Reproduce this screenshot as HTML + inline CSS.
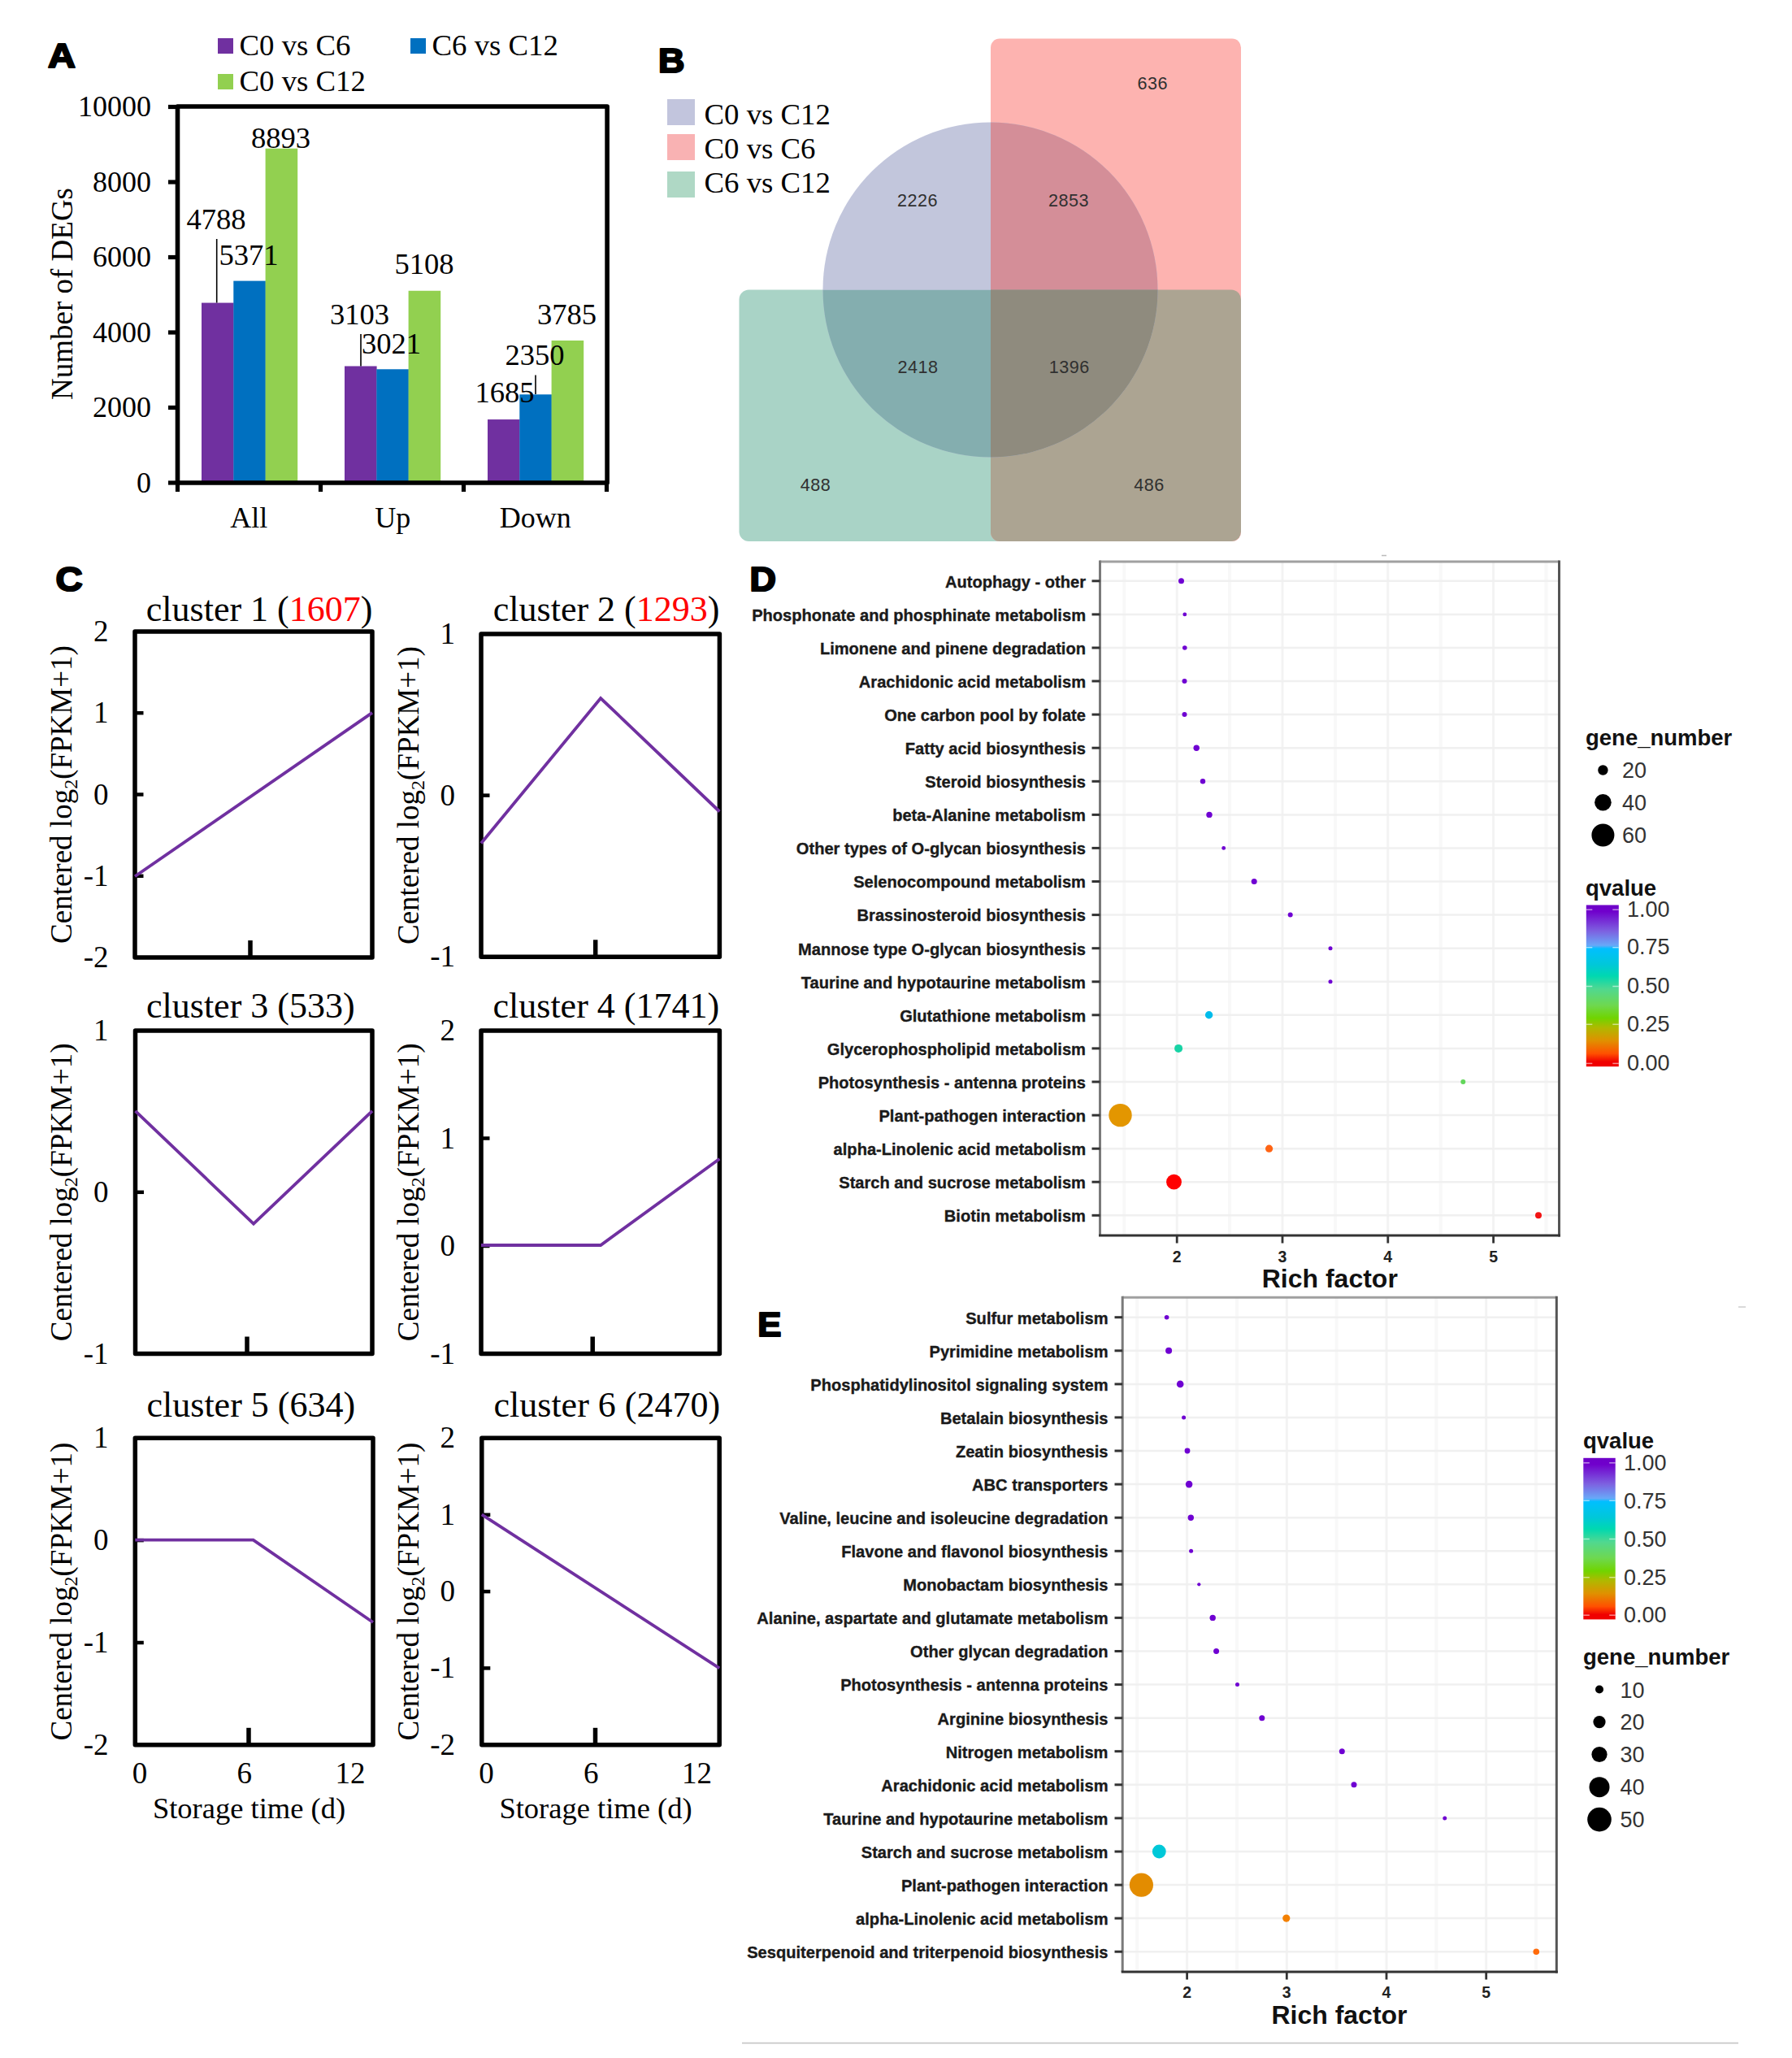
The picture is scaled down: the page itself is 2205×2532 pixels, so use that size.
<!DOCTYPE html><html><head><meta charset="utf-8"><style>html,body{margin:0;padding:0;background:#fff;width:2205px;height:2532px;overflow:hidden}svg{display:block}</style></head><body>
<svg width="2205" height="2532" viewBox="0 0 2205 2532">
<rect x="0" y="0" width="2205" height="2532" fill="#fff"/>
<text x="0" y="0" transform="translate(59,82.8) scale(1.12,1)" style="font-family:'Liberation Sans',sans-serif;font-size:42px;font-weight:bold" fill="#000" stroke="#000" stroke-width="2.2" stroke-linejoin="round">A</text>
<rect x="268" y="47" width="19" height="19" fill="#7030A0"/>
<rect x="505" y="47" width="19" height="19" fill="#0070C0"/>
<rect x="268" y="91" width="19" height="19" fill="#92D050"/>
<text x="294.5" y="67.8" style="font-family:'Liberation Serif',serif;font-size:36.8px;font-weight:normal" fill="#000" text-anchor="start" >C0 vs C6</text>
<text x="531.5" y="67.8" style="font-family:'Liberation Serif',serif;font-size:36.8px;font-weight:normal" fill="#000" text-anchor="start" >C6 vs C12</text>
<text x="294.5" y="111.8" style="font-family:'Liberation Serif',serif;font-size:36.8px;font-weight:normal" fill="#000" text-anchor="start" >C0 vs C12</text>
<rect x="248.00" y="372.56" width="39.60" height="221.44" fill="#7030A0"/>
<rect x="287.30" y="345.59" width="39.60" height="248.41" fill="#0070C0"/>
<rect x="326.60" y="182.70" width="39.60" height="411.30" fill="#92D050"/>
<rect x="424.00" y="450.49" width="39.60" height="143.51" fill="#7030A0"/>
<rect x="463.30" y="454.28" width="39.60" height="139.72" fill="#0070C0"/>
<rect x="502.60" y="357.75" width="39.60" height="236.25" fill="#92D050"/>
<rect x="600.00" y="516.07" width="39.60" height="77.93" fill="#7030A0"/>
<rect x="639.30" y="485.31" width="39.60" height="108.69" fill="#0070C0"/>
<rect x="678.60" y="418.94" width="39.60" height="175.06" fill="#92D050"/>
<rect x="218.5" y="131" width="528.6" height="463" fill="none" stroke="#000" stroke-width="5.6" stroke-linejoin="round"/>
<line x1="207" y1="594.0" x2="218.5" y2="594.0" stroke="#000" stroke-width="5.2"/>
<text x="186" y="605.7" style="font-family:'Liberation Serif',serif;font-size:36px;font-weight:normal" fill="#000" text-anchor="end" >0</text>
<line x1="207" y1="501.5" x2="218.5" y2="501.5" stroke="#000" stroke-width="5.2"/>
<text x="186" y="513.2" style="font-family:'Liberation Serif',serif;font-size:36px;font-weight:normal" fill="#000" text-anchor="end" >2000</text>
<line x1="207" y1="409.0" x2="218.5" y2="409.0" stroke="#000" stroke-width="5.2"/>
<text x="186" y="420.7" style="font-family:'Liberation Serif',serif;font-size:36px;font-weight:normal" fill="#000" text-anchor="end" >4000</text>
<line x1="207" y1="316.5" x2="218.5" y2="316.5" stroke="#000" stroke-width="5.2"/>
<text x="186" y="328.2" style="font-family:'Liberation Serif',serif;font-size:36px;font-weight:normal" fill="#000" text-anchor="end" >6000</text>
<line x1="207" y1="224.0" x2="218.5" y2="224.0" stroke="#000" stroke-width="5.2"/>
<text x="186" y="235.7" style="font-family:'Liberation Serif',serif;font-size:36px;font-weight:normal" fill="#000" text-anchor="end" >8000</text>
<line x1="207" y1="131.5" x2="218.5" y2="131.5" stroke="#000" stroke-width="5.2"/>
<text x="186" y="143.2" style="font-family:'Liberation Serif',serif;font-size:36px;font-weight:normal" fill="#000" text-anchor="end" >10000</text>
<line x1="218.5" y1="594" x2="218.5" y2="605" stroke="#000" stroke-width="5.2"/>
<line x1="394.5" y1="594" x2="394.5" y2="605" stroke="#000" stroke-width="5.2"/>
<line x1="570.5" y1="594" x2="570.5" y2="605" stroke="#000" stroke-width="5.2"/>
<line x1="746.5" y1="594" x2="746.5" y2="605" stroke="#000" stroke-width="5.2"/>
<text x="306.3" y="649" style="font-family:'Liberation Serif',serif;font-size:36px;font-weight:normal" fill="#000" text-anchor="middle" >All</text>
<text x="483.3" y="649" style="font-family:'Liberation Serif',serif;font-size:36px;font-weight:normal" fill="#000" text-anchor="middle" >Up</text>
<text x="658.8" y="649" style="font-family:'Liberation Serif',serif;font-size:36px;font-weight:normal" fill="#000" text-anchor="middle" >Down</text>
<text transform="translate(89.3,361.5) rotate(-90)" x="0" y="0" style="font-family:'Liberation Serif',serif;font-size:37px" text-anchor="middle" fill="#000">Number of DEGs</text>
<text x="309" y="181.5" style="font-family:'Liberation Serif',serif;font-size:36.6px;font-weight:normal" fill="#000" text-anchor="start" >8893</text>
<text x="229.5" y="282.4" style="font-family:'Liberation Serif',serif;font-size:36.6px;font-weight:normal" fill="#000" text-anchor="start" >4788</text>
<text x="269.5" y="326" style="font-family:'Liberation Serif',serif;font-size:36.6px;font-weight:normal" fill="#000" text-anchor="start" >5371</text>
<text x="406" y="399" style="font-family:'Liberation Serif',serif;font-size:36.6px;font-weight:normal" fill="#000" text-anchor="start" >3103</text>
<text x="445" y="435" style="font-family:'Liberation Serif',serif;font-size:36.6px;font-weight:normal" fill="#000" text-anchor="start" >3021</text>
<text x="485.5" y="337" style="font-family:'Liberation Serif',serif;font-size:36.6px;font-weight:normal" fill="#000" text-anchor="start" >5108</text>
<text x="584.5" y="495" style="font-family:'Liberation Serif',serif;font-size:36.6px;font-weight:normal" fill="#000" text-anchor="start" >1685</text>
<text x="621.5" y="449.4" style="font-family:'Liberation Serif',serif;font-size:36.6px;font-weight:normal" fill="#000" text-anchor="start" >2350</text>
<text x="661" y="399" style="font-family:'Liberation Serif',serif;font-size:36.6px;font-weight:normal" fill="#000" text-anchor="start" >3785</text>
<line x1="266.7" y1="294" x2="266.7" y2="372.5" stroke="#000" stroke-width="1.6"/>
<line x1="444" y1="411" x2="444" y2="450.5" stroke="#000" stroke-width="1.6"/>
<line x1="659" y1="461.5" x2="659" y2="485" stroke="#000" stroke-width="1.6"/>
<text x="0" y="0" transform="translate(810,88.5) scale(1.07,1)" style="font-family:'Liberation Sans',sans-serif;font-size:42px;font-weight:bold" fill="#000" stroke="#000" stroke-width="2.2" stroke-linejoin="round">B</text>
<rect x="821" y="122" width="34" height="32" fill="#C2C5DD"/>
<rect x="821" y="165" width="34" height="32" fill="#F9B2B3"/>
<rect x="821" y="211" width="34" height="32" fill="#AFD8C5"/>
<text x="866.5" y="152.5" style="font-family:'Liberation Serif',serif;font-size:36.8px;font-weight:normal" fill="#000" text-anchor="start" >C0 vs C12</text>
<text x="866.5" y="194.7" style="font-family:'Liberation Serif',serif;font-size:36.8px;font-weight:normal" fill="#000" text-anchor="start" >C0 vs C6</text>
<text x="866.5" y="236.9" style="font-family:'Liberation Serif',serif;font-size:36.8px;font-weight:normal" fill="#000" text-anchor="start" >C6 vs C12</text>
<defs>
<clipPath id="cRed"><rect x="1219" y="47.6" width="308" height="618.4" rx="11" fill="#000" /></clipPath>
<clipPath id="cGrn"><rect x="909.5" y="356.5" width="617.5" height="309.5" rx="12" fill="#000" /></clipPath>
<clipPath id="cCir"><circle cx="1218.5" cy="356.5" r="206"/></clipPath>
</defs>
<rect x="909.5" y="356.5" width="617.5" height="309.5" rx="12" fill="#A9D3C6" />
<rect x="1219" y="47.6" width="308" height="618.4" rx="11" fill="#FDB3B0" />
<g clip-path="url(#cGrn)"><rect x="1219" y="47.6" width="308" height="618.4" rx="11" fill="#ACA492" /></g>
<circle cx="1218.5" cy="356.5" r="206" fill="#C2C6DC"/>
<g clip-path="url(#cCir)"><g clip-path="url(#cRed)"><rect x="1219" y="47.6" width="308" height="618.4" rx="11" fill="#D48E98" /></g></g>
<g clip-path="url(#cCir)"><g clip-path="url(#cGrn)"><rect x="909.5" y="356.5" width="617.5" height="309.5" rx="12" fill="#84AEAF" /></g></g>
<g clip-path="url(#cCir)"><g clip-path="url(#cGrn)"><g clip-path="url(#cRed)"><rect x="1219" y="47.6" width="308" height="618.4" rx="11" fill="#8F8B7E" /></g></g></g>
<text x="1418.3" y="109.5" style="font-family:'Liberation Sans',sans-serif;font-size:21.6px;font-weight:normal" fill="#303030" text-anchor="middle" letter-spacing="0.5">636</text>
<text x="1129" y="253.6" style="font-family:'Liberation Sans',sans-serif;font-size:21.6px;font-weight:normal" fill="#303030" text-anchor="middle" letter-spacing="0.5">2226</text>
<text x="1315" y="253.6" style="font-family:'Liberation Sans',sans-serif;font-size:21.6px;font-weight:normal" fill="#303030" text-anchor="middle" letter-spacing="0.5">2853</text>
<text x="1129.5" y="459.3" style="font-family:'Liberation Sans',sans-serif;font-size:21.6px;font-weight:normal" fill="#303030" text-anchor="middle" letter-spacing="0.5">2418</text>
<text x="1315.7" y="459.3" style="font-family:'Liberation Sans',sans-serif;font-size:21.6px;font-weight:normal" fill="#303030" text-anchor="middle" letter-spacing="0.5">1396</text>
<text x="1003.4" y="604" style="font-family:'Liberation Sans',sans-serif;font-size:21.6px;font-weight:normal" fill="#303030" text-anchor="middle" letter-spacing="0.5">488</text>
<text x="1414" y="603.5" style="font-family:'Liberation Sans',sans-serif;font-size:21.6px;font-weight:normal" fill="#303030" text-anchor="middle" letter-spacing="0.5">486</text>
<text x="0" y="0" transform="translate(68.5,727) scale(1.07,1)" style="font-family:'Liberation Sans',sans-serif;font-size:43px;font-weight:bold" fill="#000" stroke="#000" stroke-width="2.2" stroke-linejoin="round">C</text>
<path d="M166 777 H458 V1178 H166 Z" fill="none" stroke="#000" stroke-width="5.5" stroke-linejoin="round"/>
<text x="133.5" y="789.0" style="font-family:'Liberation Serif',serif;font-size:37px;font-weight:normal" fill="#000" text-anchor="end" >2</text>
<line x1="166" y1="877.2" x2="176.5" y2="877.2" stroke="#000" stroke-width="4.5"/>
<text x="133.5" y="889.2" style="font-family:'Liberation Serif',serif;font-size:37px;font-weight:normal" fill="#000" text-anchor="end" >1</text>
<line x1="166" y1="977.5" x2="176.5" y2="977.5" stroke="#000" stroke-width="4.5"/>
<text x="133.5" y="989.5" style="font-family:'Liberation Serif',serif;font-size:37px;font-weight:normal" fill="#000" text-anchor="end" >0</text>
<line x1="166" y1="1077.8" x2="176.5" y2="1077.8" stroke="#000" stroke-width="4.5"/>
<text x="133.5" y="1089.8" style="font-family:'Liberation Serif',serif;font-size:37px;font-weight:normal" fill="#000" text-anchor="end" >-1</text>
<text x="133.5" y="1190.0" style="font-family:'Liberation Serif',serif;font-size:37px;font-weight:normal" fill="#000" text-anchor="end" >-2</text>
<line x1="308" y1="1157" x2="308" y2="1178" stroke="#000" stroke-width="5.5"/>
<polyline points="166,1078.2 458,876.9" fill="none" stroke="#7030A0" stroke-width="3.8" stroke-linejoin="miter"/>
<text x="179.8" y="764" style="font-family:'Liberation Serif',serif;font-size:44px" fill="#000">cluster 1 (<tspan fill="#FF0000">1607</tspan>)</text>
<text transform="translate(88,977.5) rotate(-90)" x="0" y="0" style="font-family:'Liberation Serif',serif;font-size:37px" text-anchor="middle" fill="#000">Centered log<tspan style="font-size:24px" dy="7">2</tspan><tspan dy="-7">(FPKM+1)</tspan></text>
<path d="M592 780 H885.4 V1177.3 H592 Z" fill="none" stroke="#000" stroke-width="5.5" stroke-linejoin="round"/>
<text x="560" y="792.0" style="font-family:'Liberation Serif',serif;font-size:37px;font-weight:normal" fill="#000" text-anchor="end" >1</text>
<line x1="592" y1="978.6" x2="602.5" y2="978.6" stroke="#000" stroke-width="4.5"/>
<text x="560" y="990.6" style="font-family:'Liberation Serif',serif;font-size:37px;font-weight:normal" fill="#000" text-anchor="end" >0</text>
<text x="560" y="1189.3" style="font-family:'Liberation Serif',serif;font-size:37px;font-weight:normal" fill="#000" text-anchor="end" >-1</text>
<line x1="732.7" y1="1156.3" x2="732.7" y2="1177.3" stroke="#000" stroke-width="5.5"/>
<polyline points="592,1037.5 739.1,859 885.4,998.5" fill="none" stroke="#7030A0" stroke-width="3.8" stroke-linejoin="miter"/>
<text x="606.8" y="764" style="font-family:'Liberation Serif',serif;font-size:44px" fill="#000">cluster 2 (<tspan fill="#FF0000">1293</tspan>)</text>
<text transform="translate(514.5,978.6) rotate(-90)" x="0" y="0" style="font-family:'Liberation Serif',serif;font-size:37px" text-anchor="middle" fill="#000">Centered log<tspan style="font-size:24px" dy="7">2</tspan><tspan dy="-7">(FPKM+1)</tspan></text>
<path d="M166.5 1268 H458 V1665.5 H166.5 Z" fill="none" stroke="#000" stroke-width="5.5" stroke-linejoin="round"/>
<text x="133.5" y="1280.0" style="font-family:'Liberation Serif',serif;font-size:37px;font-weight:normal" fill="#000" text-anchor="end" >1</text>
<line x1="166.5" y1="1466.8" x2="177.0" y2="1466.8" stroke="#000" stroke-width="4.5"/>
<text x="133.5" y="1478.8" style="font-family:'Liberation Serif',serif;font-size:37px;font-weight:normal" fill="#000" text-anchor="end" >0</text>
<text x="133.5" y="1677.5" style="font-family:'Liberation Serif',serif;font-size:37px;font-weight:normal" fill="#000" text-anchor="end" >-1</text>
<line x1="304" y1="1644.5" x2="304" y2="1665.5" stroke="#000" stroke-width="5.5"/>
<polyline points="166.5,1366.8 312,1505.6 458,1366.8" fill="none" stroke="#7030A0" stroke-width="3.8" stroke-linejoin="miter"/>
<text x="180" y="1251.5" style="font-family:'Liberation Serif',serif;font-size:44px" fill="#000">cluster 3 (533)</text>
<text transform="translate(88,1466.8) rotate(-90)" x="0" y="0" style="font-family:'Liberation Serif',serif;font-size:37px" text-anchor="middle" fill="#000">Centered log<tspan style="font-size:24px" dy="7">2</tspan><tspan dy="-7">(FPKM+1)</tspan></text>
<path d="M592 1268 H885.4 V1665.5 H592 Z" fill="none" stroke="#000" stroke-width="5.5" stroke-linejoin="round"/>
<text x="560" y="1280.0" style="font-family:'Liberation Serif',serif;font-size:37px;font-weight:normal" fill="#000" text-anchor="end" >2</text>
<line x1="592" y1="1400.5" x2="602.5" y2="1400.5" stroke="#000" stroke-width="4.5"/>
<text x="560" y="1412.5" style="font-family:'Liberation Serif',serif;font-size:37px;font-weight:normal" fill="#000" text-anchor="end" >1</text>
<line x1="592" y1="1533.0" x2="602.5" y2="1533.0" stroke="#000" stroke-width="4.5"/>
<text x="560" y="1545.0" style="font-family:'Liberation Serif',serif;font-size:37px;font-weight:normal" fill="#000" text-anchor="end" >0</text>
<text x="560" y="1677.5" style="font-family:'Liberation Serif',serif;font-size:37px;font-weight:normal" fill="#000" text-anchor="end" >-1</text>
<line x1="729.2" y1="1644.5" x2="729.2" y2="1665.5" stroke="#000" stroke-width="5.5"/>
<polyline points="592,1532 739.1,1532 885.4,1425.7" fill="none" stroke="#7030A0" stroke-width="3.8" stroke-linejoin="miter"/>
<text x="606.5" y="1251.5" style="font-family:'Liberation Serif',serif;font-size:44px" fill="#000">cluster 4 (1741)</text>
<text transform="translate(514.5,1466.8) rotate(-90)" x="0" y="0" style="font-family:'Liberation Serif',serif;font-size:37px" text-anchor="middle" fill="#000">Centered log<tspan style="font-size:24px" dy="7">2</tspan><tspan dy="-7">(FPKM+1)</tspan></text>
<path d="M166.3 1769.3 H459 V2146.8 H166.3 Z" fill="none" stroke="#000" stroke-width="5.5" stroke-linejoin="round"/>
<text x="133.5" y="1781.3" style="font-family:'Liberation Serif',serif;font-size:37px;font-weight:normal" fill="#000" text-anchor="end" >1</text>
<line x1="166.3" y1="1895.1" x2="176.8" y2="1895.1" stroke="#000" stroke-width="4.5"/>
<text x="133.5" y="1907.1" style="font-family:'Liberation Serif',serif;font-size:37px;font-weight:normal" fill="#000" text-anchor="end" >0</text>
<line x1="166.3" y1="2021.0" x2="176.8" y2="2021.0" stroke="#000" stroke-width="4.5"/>
<text x="133.5" y="2033.0" style="font-family:'Liberation Serif',serif;font-size:37px;font-weight:normal" fill="#000" text-anchor="end" >-1</text>
<text x="133.5" y="2158.8" style="font-family:'Liberation Serif',serif;font-size:37px;font-weight:normal" fill="#000" text-anchor="end" >-2</text>
<line x1="306" y1="2125.8" x2="306" y2="2146.8" stroke="#000" stroke-width="5.5"/>
<polyline points="166.3,1894.6 311.6,1894.6 459,1996" fill="none" stroke="#7030A0" stroke-width="3.8" stroke-linejoin="miter"/>
<text x="180.5" y="1742.6" style="font-family:'Liberation Serif',serif;font-size:44px" fill="#000">cluster 5 (634)</text>
<text transform="translate(88,1958.1) rotate(-90)" x="0" y="0" style="font-family:'Liberation Serif',serif;font-size:37px" text-anchor="middle" fill="#000">Centered log<tspan style="font-size:24px" dy="7">2</tspan><tspan dy="-7">(FPKM+1)</tspan></text>
<path d="M592.8 1769.3 H885.2 V2146.8 H592.8 Z" fill="none" stroke="#000" stroke-width="5.5" stroke-linejoin="round"/>
<text x="560" y="1781.3" style="font-family:'Liberation Serif',serif;font-size:37px;font-weight:normal" fill="#000" text-anchor="end" >2</text>
<line x1="592.8" y1="1863.7" x2="603.3" y2="1863.7" stroke="#000" stroke-width="4.5"/>
<text x="560" y="1875.7" style="font-family:'Liberation Serif',serif;font-size:37px;font-weight:normal" fill="#000" text-anchor="end" >1</text>
<line x1="592.8" y1="1958.1" x2="603.3" y2="1958.1" stroke="#000" stroke-width="4.5"/>
<text x="560" y="1970.1" style="font-family:'Liberation Serif',serif;font-size:37px;font-weight:normal" fill="#000" text-anchor="end" >0</text>
<line x1="592.8" y1="2052.4" x2="603.3" y2="2052.4" stroke="#000" stroke-width="4.5"/>
<text x="560" y="2064.4" style="font-family:'Liberation Serif',serif;font-size:37px;font-weight:normal" fill="#000" text-anchor="end" >-1</text>
<text x="560" y="2158.8" style="font-family:'Liberation Serif',serif;font-size:37px;font-weight:normal" fill="#000" text-anchor="end" >-2</text>
<line x1="732.5" y1="2125.8" x2="732.5" y2="2146.8" stroke="#000" stroke-width="5.5"/>
<polyline points="592.8,1863.3 885.2,2052.4" fill="none" stroke="#7030A0" stroke-width="3.8" stroke-linejoin="miter"/>
<text x="607.5" y="1742.6" style="font-family:'Liberation Serif',serif;font-size:44px" fill="#000">cluster 6 (2470)</text>
<text transform="translate(514.5,1958.1) rotate(-90)" x="0" y="0" style="font-family:'Liberation Serif',serif;font-size:37px" text-anchor="middle" fill="#000">Centered log<tspan style="font-size:24px" dy="7">2</tspan><tspan dy="-7">(FPKM+1)</tspan></text>
<text x="172.1" y="2194.3" style="font-family:'Liberation Serif',serif;font-size:37px;font-weight:normal" fill="#000" text-anchor="middle" >0</text>
<text x="300.7" y="2194.3" style="font-family:'Liberation Serif',serif;font-size:37px;font-weight:normal" fill="#000" text-anchor="middle" >6</text>
<text x="431" y="2194.3" style="font-family:'Liberation Serif',serif;font-size:37px;font-weight:normal" fill="#000" text-anchor="middle" >12</text>
<text x="306.5" y="2236.6" style="font-family:'Liberation Serif',serif;font-size:36.5px;font-weight:normal" fill="#000" text-anchor="middle" >Storage time (d)</text>
<text x="598.6" y="2194.3" style="font-family:'Liberation Serif',serif;font-size:37px;font-weight:normal" fill="#000" text-anchor="middle" >0</text>
<text x="727.2" y="2194.3" style="font-family:'Liberation Serif',serif;font-size:37px;font-weight:normal" fill="#000" text-anchor="middle" >6</text>
<text x="857.5" y="2194.3" style="font-family:'Liberation Serif',serif;font-size:37px;font-weight:normal" fill="#000" text-anchor="middle" >12</text>
<text x="733.0" y="2236.6" style="font-family:'Liberation Serif',serif;font-size:36.5px;font-weight:normal" fill="#000" text-anchor="middle" >Storage time (d)</text>
<text x="0" y="0" transform="translate(922.5,726.5) scale(1.07,1)" style="font-family:'Liberation Sans',sans-serif;font-size:42px;font-weight:bold" fill="#000" stroke="#000" stroke-width="2.2" stroke-linejoin="round">D</text>
<line x1="1383.3" y1="691" x2="1383.3" y2="1520" stroke="#F8F8F8" stroke-width="4"/>
<line x1="1513.1" y1="691" x2="1513.1" y2="1520" stroke="#F8F8F8" stroke-width="4"/>
<line x1="1642.9" y1="691" x2="1642.9" y2="1520" stroke="#F8F8F8" stroke-width="4"/>
<line x1="1772.7" y1="691" x2="1772.7" y2="1520" stroke="#F8F8F8" stroke-width="4"/>
<line x1="1902.5" y1="691" x2="1902.5" y2="1520" stroke="#F8F8F8" stroke-width="4"/>
<line x1="1448.2" y1="691" x2="1448.2" y2="1520" stroke="#F3F3F3" stroke-width="3"/>
<line x1="1578.0" y1="691" x2="1578.0" y2="1520" stroke="#F3F3F3" stroke-width="3"/>
<line x1="1707.8" y1="691" x2="1707.8" y2="1520" stroke="#F3F3F3" stroke-width="3"/>
<line x1="1837.6" y1="691" x2="1837.6" y2="1520" stroke="#F3F3F3" stroke-width="3"/>
<line x1="1353.5" y1="714.8" x2="1918.5" y2="714.8" stroke="#F0F0F0" stroke-width="2.5"/>
<line x1="1353.5" y1="755.9" x2="1918.5" y2="755.9" stroke="#F0F0F0" stroke-width="2.5"/>
<line x1="1353.5" y1="797.0" x2="1918.5" y2="797.0" stroke="#F0F0F0" stroke-width="2.5"/>
<line x1="1353.5" y1="838.0" x2="1918.5" y2="838.0" stroke="#F0F0F0" stroke-width="2.5"/>
<line x1="1353.5" y1="879.1" x2="1918.5" y2="879.1" stroke="#F0F0F0" stroke-width="2.5"/>
<line x1="1353.5" y1="920.2" x2="1918.5" y2="920.2" stroke="#F0F0F0" stroke-width="2.5"/>
<line x1="1353.5" y1="961.3" x2="1918.5" y2="961.3" stroke="#F0F0F0" stroke-width="2.5"/>
<line x1="1353.5" y1="1002.4" x2="1918.5" y2="1002.4" stroke="#F0F0F0" stroke-width="2.5"/>
<line x1="1353.5" y1="1043.4" x2="1918.5" y2="1043.4" stroke="#F0F0F0" stroke-width="2.5"/>
<line x1="1353.5" y1="1084.5" x2="1918.5" y2="1084.5" stroke="#F0F0F0" stroke-width="2.5"/>
<line x1="1353.5" y1="1125.6" x2="1918.5" y2="1125.6" stroke="#F0F0F0" stroke-width="2.5"/>
<line x1="1353.5" y1="1166.7" x2="1918.5" y2="1166.7" stroke="#F0F0F0" stroke-width="2.5"/>
<line x1="1353.5" y1="1207.8" x2="1918.5" y2="1207.8" stroke="#F0F0F0" stroke-width="2.5"/>
<line x1="1353.5" y1="1248.8" x2="1918.5" y2="1248.8" stroke="#F0F0F0" stroke-width="2.5"/>
<line x1="1353.5" y1="1289.9" x2="1918.5" y2="1289.9" stroke="#F0F0F0" stroke-width="2.5"/>
<line x1="1353.5" y1="1331.0" x2="1918.5" y2="1331.0" stroke="#F0F0F0" stroke-width="2.5"/>
<line x1="1353.5" y1="1372.1" x2="1918.5" y2="1372.1" stroke="#F0F0F0" stroke-width="2.5"/>
<line x1="1353.5" y1="1413.2" x2="1918.5" y2="1413.2" stroke="#F0F0F0" stroke-width="2.5"/>
<line x1="1353.5" y1="1454.2" x2="1918.5" y2="1454.2" stroke="#F0F0F0" stroke-width="2.5"/>
<line x1="1353.5" y1="1495.3" x2="1918.5" y2="1495.3" stroke="#F0F0F0" stroke-width="2.5"/>
<circle cx="1453.5" cy="714.8" r="3.5" fill="#6F00D2"/>
<circle cx="1457.8" cy="755.9" r="2.4" fill="#6F00D2"/>
<circle cx="1457.8" cy="797.0" r="2.8" fill="#6F00D2"/>
<circle cx="1457.5" cy="838.0" r="3" fill="#6F00D2"/>
<circle cx="1457.5" cy="879.1" r="3" fill="#6F00D2"/>
<circle cx="1472.2" cy="920.2" r="3.7" fill="#6F00D2"/>
<circle cx="1480" cy="961.3" r="3.2" fill="#6F00D2"/>
<circle cx="1488" cy="1002.4" r="3.7" fill="#6F00D2"/>
<circle cx="1505.7" cy="1043.4" r="2.4" fill="#6F00D2"/>
<circle cx="1543.2" cy="1084.5" r="3.5" fill="#6F00D2"/>
<circle cx="1587.7" cy="1125.6" r="3" fill="#6F00D2"/>
<circle cx="1637" cy="1166.7" r="2.5" fill="#6F00D2"/>
<circle cx="1637" cy="1207.8" r="2.5" fill="#6F00D2"/>
<circle cx="1487.6" cy="1248.8" r="4.7" fill="#00BCEB"/>
<circle cx="1450.1" cy="1289.9" r="5" fill="#17D3A5"/>
<circle cx="1800.3" cy="1331.0" r="3" fill="#62D65A"/>
<circle cx="1378.5" cy="1372.1" r="14.2" fill="#E39600"/>
<circle cx="1561.6" cy="1413.2" r="4.6" fill="#FF6414"/>
<circle cx="1444.5" cy="1454.2" r="9.4" fill="#FF0000"/>
<circle cx="1893" cy="1495.3" r="4" fill="#F21414"/>
<line x1="1353.5" y1="691" x2="1918.5" y2="691" stroke="#A0A0A0" stroke-width="3"/>
<line x1="1353.5" y1="689.5" x2="1353.5" y2="1520" stroke="#7A7A7A" stroke-width="3"/>
<line x1="1918.5" y1="689.5" x2="1918.5" y2="1521.5" stroke="#555" stroke-width="3"/>
<line x1="1352.0" y1="1520" x2="1920.0" y2="1520" stroke="#333" stroke-width="3"/>
<line x1="1343.5" y1="714.8" x2="1353.5" y2="714.8" stroke="#333" stroke-width="3"/>
<text x="1336" y="722.6" style="font-family:'Liberation Sans',sans-serif;font-size:20.1px;font-weight:bold" fill="#1a1a1a" text-anchor="end" stroke="#1a1a1a" stroke-width="0.35">Autophagy - other</text>
<line x1="1343.5" y1="755.9" x2="1353.5" y2="755.9" stroke="#333" stroke-width="3"/>
<text x="1336" y="763.7" style="font-family:'Liberation Sans',sans-serif;font-size:20.1px;font-weight:bold" fill="#1a1a1a" text-anchor="end" stroke="#1a1a1a" stroke-width="0.35">Phosphonate and phosphinate metabolism</text>
<line x1="1343.5" y1="797.0" x2="1353.5" y2="797.0" stroke="#333" stroke-width="3"/>
<text x="1336" y="804.8" style="font-family:'Liberation Sans',sans-serif;font-size:20.1px;font-weight:bold" fill="#1a1a1a" text-anchor="end" stroke="#1a1a1a" stroke-width="0.35">Limonene and pinene degradation</text>
<line x1="1343.5" y1="838.0" x2="1353.5" y2="838.0" stroke="#333" stroke-width="3"/>
<text x="1336" y="845.8" style="font-family:'Liberation Sans',sans-serif;font-size:20.1px;font-weight:bold" fill="#1a1a1a" text-anchor="end" stroke="#1a1a1a" stroke-width="0.35">Arachidonic acid metabolism</text>
<line x1="1343.5" y1="879.1" x2="1353.5" y2="879.1" stroke="#333" stroke-width="3"/>
<text x="1336" y="886.9" style="font-family:'Liberation Sans',sans-serif;font-size:20.1px;font-weight:bold" fill="#1a1a1a" text-anchor="end" stroke="#1a1a1a" stroke-width="0.35">One carbon pool by folate</text>
<line x1="1343.5" y1="920.2" x2="1353.5" y2="920.2" stroke="#333" stroke-width="3"/>
<text x="1336" y="928.0" style="font-family:'Liberation Sans',sans-serif;font-size:20.1px;font-weight:bold" fill="#1a1a1a" text-anchor="end" stroke="#1a1a1a" stroke-width="0.35">Fatty acid biosynthesis</text>
<line x1="1343.5" y1="961.3" x2="1353.5" y2="961.3" stroke="#333" stroke-width="3"/>
<text x="1336" y="969.1" style="font-family:'Liberation Sans',sans-serif;font-size:20.1px;font-weight:bold" fill="#1a1a1a" text-anchor="end" stroke="#1a1a1a" stroke-width="0.35">Steroid biosynthesis</text>
<line x1="1343.5" y1="1002.4" x2="1353.5" y2="1002.4" stroke="#333" stroke-width="3"/>
<text x="1336" y="1010.2" style="font-family:'Liberation Sans',sans-serif;font-size:20.1px;font-weight:bold" fill="#1a1a1a" text-anchor="end" stroke="#1a1a1a" stroke-width="0.35">beta-Alanine metabolism</text>
<line x1="1343.5" y1="1043.4" x2="1353.5" y2="1043.4" stroke="#333" stroke-width="3"/>
<text x="1336" y="1051.2" style="font-family:'Liberation Sans',sans-serif;font-size:20.1px;font-weight:bold" fill="#1a1a1a" text-anchor="end" stroke="#1a1a1a" stroke-width="0.35">Other types of O-glycan biosynthesis</text>
<line x1="1343.5" y1="1084.5" x2="1353.5" y2="1084.5" stroke="#333" stroke-width="3"/>
<text x="1336" y="1092.3" style="font-family:'Liberation Sans',sans-serif;font-size:20.1px;font-weight:bold" fill="#1a1a1a" text-anchor="end" stroke="#1a1a1a" stroke-width="0.35">Selenocompound metabolism</text>
<line x1="1343.5" y1="1125.6" x2="1353.5" y2="1125.6" stroke="#333" stroke-width="3"/>
<text x="1336" y="1133.4" style="font-family:'Liberation Sans',sans-serif;font-size:20.1px;font-weight:bold" fill="#1a1a1a" text-anchor="end" stroke="#1a1a1a" stroke-width="0.35">Brassinosteroid biosynthesis</text>
<line x1="1343.5" y1="1166.7" x2="1353.5" y2="1166.7" stroke="#333" stroke-width="3"/>
<text x="1336" y="1174.5" style="font-family:'Liberation Sans',sans-serif;font-size:20.1px;font-weight:bold" fill="#1a1a1a" text-anchor="end" stroke="#1a1a1a" stroke-width="0.35">Mannose type O-glycan biosynthesis</text>
<line x1="1343.5" y1="1207.8" x2="1353.5" y2="1207.8" stroke="#333" stroke-width="3"/>
<text x="1336" y="1215.6" style="font-family:'Liberation Sans',sans-serif;font-size:20.1px;font-weight:bold" fill="#1a1a1a" text-anchor="end" stroke="#1a1a1a" stroke-width="0.35">Taurine and hypotaurine metabolism</text>
<line x1="1343.5" y1="1248.8" x2="1353.5" y2="1248.8" stroke="#333" stroke-width="3"/>
<text x="1336" y="1256.6" style="font-family:'Liberation Sans',sans-serif;font-size:20.1px;font-weight:bold" fill="#1a1a1a" text-anchor="end" stroke="#1a1a1a" stroke-width="0.35">Glutathione metabolism</text>
<line x1="1343.5" y1="1289.9" x2="1353.5" y2="1289.9" stroke="#333" stroke-width="3"/>
<text x="1336" y="1297.7" style="font-family:'Liberation Sans',sans-serif;font-size:20.1px;font-weight:bold" fill="#1a1a1a" text-anchor="end" stroke="#1a1a1a" stroke-width="0.35">Glycerophospholipid metabolism</text>
<line x1="1343.5" y1="1331.0" x2="1353.5" y2="1331.0" stroke="#333" stroke-width="3"/>
<text x="1336" y="1338.8" style="font-family:'Liberation Sans',sans-serif;font-size:20.1px;font-weight:bold" fill="#1a1a1a" text-anchor="end" stroke="#1a1a1a" stroke-width="0.35">Photosynthesis - antenna proteins</text>
<line x1="1343.5" y1="1372.1" x2="1353.5" y2="1372.1" stroke="#333" stroke-width="3"/>
<text x="1336" y="1379.9" style="font-family:'Liberation Sans',sans-serif;font-size:20.1px;font-weight:bold" fill="#1a1a1a" text-anchor="end" stroke="#1a1a1a" stroke-width="0.35">Plant-pathogen interaction</text>
<line x1="1343.5" y1="1413.2" x2="1353.5" y2="1413.2" stroke="#333" stroke-width="3"/>
<text x="1336" y="1421.0" style="font-family:'Liberation Sans',sans-serif;font-size:20.1px;font-weight:bold" fill="#1a1a1a" text-anchor="end" stroke="#1a1a1a" stroke-width="0.35">alpha-Linolenic acid metabolism</text>
<line x1="1343.5" y1="1454.2" x2="1353.5" y2="1454.2" stroke="#333" stroke-width="3"/>
<text x="1336" y="1462.0" style="font-family:'Liberation Sans',sans-serif;font-size:20.1px;font-weight:bold" fill="#1a1a1a" text-anchor="end" stroke="#1a1a1a" stroke-width="0.35">Starch and sucrose metabolism</text>
<line x1="1343.5" y1="1495.3" x2="1353.5" y2="1495.3" stroke="#333" stroke-width="3"/>
<text x="1336" y="1503.1" style="font-family:'Liberation Sans',sans-serif;font-size:20.1px;font-weight:bold" fill="#1a1a1a" text-anchor="end" stroke="#1a1a1a" stroke-width="0.35">Biotin metabolism</text>
<line x1="1448.2" y1="1520" x2="1448.2" y2="1529.5" stroke="#333" stroke-width="2.8"/>
<text x="1448.2" y="1552.5" style="font-family:'Liberation Sans',sans-serif;font-size:19.5px;font-weight:bold" fill="#222" text-anchor="middle" >2</text>
<line x1="1578.0" y1="1520" x2="1578.0" y2="1529.5" stroke="#333" stroke-width="2.8"/>
<text x="1578.0" y="1552.5" style="font-family:'Liberation Sans',sans-serif;font-size:19.5px;font-weight:bold" fill="#222" text-anchor="middle" >3</text>
<line x1="1707.8" y1="1520" x2="1707.8" y2="1529.5" stroke="#333" stroke-width="2.8"/>
<text x="1707.8" y="1552.5" style="font-family:'Liberation Sans',sans-serif;font-size:19.5px;font-weight:bold" fill="#222" text-anchor="middle" >4</text>
<line x1="1837.6" y1="1520" x2="1837.6" y2="1529.5" stroke="#333" stroke-width="2.8"/>
<text x="1837.6" y="1552.5" style="font-family:'Liberation Sans',sans-serif;font-size:19.5px;font-weight:bold" fill="#222" text-anchor="middle" >5</text>
<text x="1636.3" y="1584.3" style="font-family:'Liberation Sans',sans-serif;font-size:32px;font-weight:bold" fill="#111" text-anchor="middle" >Rich factor</text>
<text x="1951" y="917.4" style="font-family:'Liberation Sans',sans-serif;font-size:27.5px;font-weight:bold" fill="#111" text-anchor="start" >gene_number</text>
<circle cx="1972.4" cy="947.5" r="6.2" fill="#000"/>
<text x="1996" y="957.4" style="font-family:'Liberation Sans',sans-serif;font-size:27px;font-weight:normal" fill="#333" text-anchor="start" >20</text>
<circle cx="1972.4" cy="987.3" r="10.3" fill="#000"/>
<text x="1996" y="996.9" style="font-family:'Liberation Sans',sans-serif;font-size:27px;font-weight:normal" fill="#333" text-anchor="start" >40</text>
<circle cx="1972.4" cy="1027.5" r="14" fill="#000"/>
<text x="1996" y="1036.5" style="font-family:'Liberation Sans',sans-serif;font-size:27px;font-weight:normal" fill="#333" text-anchor="start" >60</text>
<text x="1951" y="1102.4" style="font-family:'Liberation Sans',sans-serif;font-size:27.5px;font-weight:bold" fill="#111" text-anchor="start" >qvalue</text>
<defs><linearGradient id="g1951" x1="0" y1="0" x2="0" y2="1"><stop offset="0" stop-color="#6E00C8"/><stop offset="0.04" stop-color="#7000CC"/><stop offset="0.16" stop-color="#7D60E0"/><stop offset="0.25" stop-color="#68A8F8"/><stop offset="0.27" stop-color="#00BFFF"/><stop offset="0.37" stop-color="#00C8D8"/><stop offset="0.44" stop-color="#00D8B0"/><stop offset="0.52" stop-color="#50D890"/><stop offset="0.62" stop-color="#6ED850"/><stop offset="0.70" stop-color="#70D400"/><stop offset="0.76" stop-color="#B0B800"/><stop offset="0.84" stop-color="#E09000"/><stop offset="0.92" stop-color="#FF5000"/><stop offset="0.97" stop-color="#F00000"/><stop offset="1" stop-color="#F00000"/></linearGradient></defs>
<rect x="1951.8" y="1113.5" width="40" height="198.7" fill="url(#g1951)"/>
<line x1="1951.8" y1="1119.2" x2="1959.3" y2="1119.2" stroke="#fff" stroke-opacity="0.55" stroke-width="1.5"/>
<line x1="1984.3" y1="1119.2" x2="1991.8" y2="1119.2" stroke="#fff" stroke-opacity="0.55" stroke-width="1.5"/>
<text x="2002" y="1127.5" style="font-family:'Liberation Sans',sans-serif;font-size:27px;font-weight:normal" fill="#333" text-anchor="start" >1.00</text>
<line x1="1951.8" y1="1165.7" x2="1959.3" y2="1165.7" stroke="#fff" stroke-opacity="0.55" stroke-width="1.5"/>
<line x1="1984.3" y1="1165.7" x2="1991.8" y2="1165.7" stroke="#fff" stroke-opacity="0.55" stroke-width="1.5"/>
<text x="2002" y="1174.0" style="font-family:'Liberation Sans',sans-serif;font-size:27px;font-weight:normal" fill="#333" text-anchor="start" >0.75</text>
<line x1="1951.8" y1="1213.5" x2="1959.3" y2="1213.5" stroke="#fff" stroke-opacity="0.55" stroke-width="1.5"/>
<line x1="1984.3" y1="1213.5" x2="1991.8" y2="1213.5" stroke="#fff" stroke-opacity="0.55" stroke-width="1.5"/>
<text x="2002" y="1221.8" style="font-family:'Liberation Sans',sans-serif;font-size:27px;font-weight:normal" fill="#333" text-anchor="start" >0.50</text>
<line x1="1951.8" y1="1260.3" x2="1959.3" y2="1260.3" stroke="#fff" stroke-opacity="0.55" stroke-width="1.5"/>
<line x1="1984.3" y1="1260.3" x2="1991.8" y2="1260.3" stroke="#fff" stroke-opacity="0.55" stroke-width="1.5"/>
<text x="2002" y="1268.6" style="font-family:'Liberation Sans',sans-serif;font-size:27px;font-weight:normal" fill="#333" text-anchor="start" >0.25</text>
<line x1="1951.8" y1="1308.4" x2="1959.3" y2="1308.4" stroke="#fff" stroke-opacity="0.55" stroke-width="1.5"/>
<line x1="1984.3" y1="1308.4" x2="1991.8" y2="1308.4" stroke="#fff" stroke-opacity="0.55" stroke-width="1.5"/>
<text x="2002" y="1316.7" style="font-family:'Liberation Sans',sans-serif;font-size:27px;font-weight:normal" fill="#333" text-anchor="start" >0.00</text>
<line x1="1700" y1="683.5" x2="1706" y2="683.5" stroke="#BBB" stroke-width="1.5"/>
<text x="0" y="0" transform="translate(932.3,1644.3) scale(1.04,1)" style="font-family:'Liberation Sans',sans-serif;font-size:42px;font-weight:bold" fill="#000" stroke="#000" stroke-width="2.2" stroke-linejoin="round">E</text>
<line x1="1399.2" y1="1596.3" x2="1399.2" y2="2426" stroke="#F8F8F8" stroke-width="4"/>
<line x1="1521.9" y1="1596.3" x2="1521.9" y2="2426" stroke="#F8F8F8" stroke-width="4"/>
<line x1="1644.6" y1="1596.3" x2="1644.6" y2="2426" stroke="#F8F8F8" stroke-width="4"/>
<line x1="1767.3" y1="1596.3" x2="1767.3" y2="2426" stroke="#F8F8F8" stroke-width="4"/>
<line x1="1890.0" y1="1596.3" x2="1890.0" y2="2426" stroke="#F8F8F8" stroke-width="4"/>
<line x1="1460.6" y1="1596.3" x2="1460.6" y2="2426" stroke="#F3F3F3" stroke-width="3"/>
<line x1="1583.3" y1="1596.3" x2="1583.3" y2="2426" stroke="#F3F3F3" stroke-width="3"/>
<line x1="1706.0" y1="1596.3" x2="1706.0" y2="2426" stroke="#F3F3F3" stroke-width="3"/>
<line x1="1828.7" y1="1596.3" x2="1828.7" y2="2426" stroke="#F3F3F3" stroke-width="3"/>
<line x1="1381.2" y1="1620.7" x2="1915.3" y2="1620.7" stroke="#F0F0F0" stroke-width="2.5"/>
<line x1="1381.2" y1="1661.8" x2="1915.3" y2="1661.8" stroke="#F0F0F0" stroke-width="2.5"/>
<line x1="1381.2" y1="1702.9" x2="1915.3" y2="1702.9" stroke="#F0F0F0" stroke-width="2.5"/>
<line x1="1381.2" y1="1743.9" x2="1915.3" y2="1743.9" stroke="#F0F0F0" stroke-width="2.5"/>
<line x1="1381.2" y1="1785.0" x2="1915.3" y2="1785.0" stroke="#F0F0F0" stroke-width="2.5"/>
<line x1="1381.2" y1="1826.1" x2="1915.3" y2="1826.1" stroke="#F0F0F0" stroke-width="2.5"/>
<line x1="1381.2" y1="1867.2" x2="1915.3" y2="1867.2" stroke="#F0F0F0" stroke-width="2.5"/>
<line x1="1381.2" y1="1908.3" x2="1915.3" y2="1908.3" stroke="#F0F0F0" stroke-width="2.5"/>
<line x1="1381.2" y1="1949.3" x2="1915.3" y2="1949.3" stroke="#F0F0F0" stroke-width="2.5"/>
<line x1="1381.2" y1="1990.4" x2="1915.3" y2="1990.4" stroke="#F0F0F0" stroke-width="2.5"/>
<line x1="1381.2" y1="2031.5" x2="1915.3" y2="2031.5" stroke="#F0F0F0" stroke-width="2.5"/>
<line x1="1381.2" y1="2072.6" x2="1915.3" y2="2072.6" stroke="#F0F0F0" stroke-width="2.5"/>
<line x1="1381.2" y1="2113.7" x2="1915.3" y2="2113.7" stroke="#F0F0F0" stroke-width="2.5"/>
<line x1="1381.2" y1="2154.7" x2="1915.3" y2="2154.7" stroke="#F0F0F0" stroke-width="2.5"/>
<line x1="1381.2" y1="2195.8" x2="1915.3" y2="2195.8" stroke="#F0F0F0" stroke-width="2.5"/>
<line x1="1381.2" y1="2236.9" x2="1915.3" y2="2236.9" stroke="#F0F0F0" stroke-width="2.5"/>
<line x1="1381.2" y1="2278.0" x2="1915.3" y2="2278.0" stroke="#F0F0F0" stroke-width="2.5"/>
<line x1="1381.2" y1="2319.1" x2="1915.3" y2="2319.1" stroke="#F0F0F0" stroke-width="2.5"/>
<line x1="1381.2" y1="2360.1" x2="1915.3" y2="2360.1" stroke="#F0F0F0" stroke-width="2.5"/>
<line x1="1381.2" y1="2401.2" x2="1915.3" y2="2401.2" stroke="#F0F0F0" stroke-width="2.5"/>
<circle cx="1435.6" cy="1620.7" r="2.8" fill="#6F00D2"/>
<circle cx="1438.1" cy="1661.8" r="4" fill="#6F00D2"/>
<circle cx="1452.2" cy="1702.9" r="4.3" fill="#6F00D2"/>
<circle cx="1456.6" cy="1743.9" r="2.5" fill="#6F00D2"/>
<circle cx="1461" cy="1785.0" r="3.4" fill="#6F00D2"/>
<circle cx="1463.1" cy="1826.1" r="4.3" fill="#6F00D2"/>
<circle cx="1465.3" cy="1867.2" r="3.7" fill="#6F00D2"/>
<circle cx="1465.6" cy="1908.3" r="2.5" fill="#6F00D2"/>
<circle cx="1475.3" cy="1949.3" r="2.1" fill="#6F00D2"/>
<circle cx="1492.2" cy="1990.4" r="3.7" fill="#6F00D2"/>
<circle cx="1496.6" cy="2031.5" r="3.5" fill="#6F00D2"/>
<circle cx="1522.5" cy="2072.6" r="2.5" fill="#6F00D2"/>
<circle cx="1552.8" cy="2113.7" r="3.5" fill="#6F00D2"/>
<circle cx="1651.3" cy="2154.7" r="3.5" fill="#6F00D2"/>
<circle cx="1666" cy="2195.8" r="3.5" fill="#6F00D2"/>
<circle cx="1777.8" cy="2236.9" r="2.5" fill="#6F00D2"/>
<circle cx="1426.3" cy="2278.0" r="8.4" fill="#00C8D8"/>
<circle cx="1404.4" cy="2319.1" r="14.6" fill="#E38C00"/>
<circle cx="1582.8" cy="2360.1" r="4.6" fill="#F38000"/>
<circle cx="1890.3" cy="2401.2" r="3.8" fill="#FF6A0A"/>
<line x1="1381.2" y1="1596.3" x2="1915.3" y2="1596.3" stroke="#A0A0A0" stroke-width="3"/>
<line x1="1381.2" y1="1594.8" x2="1381.2" y2="2426" stroke="#7A7A7A" stroke-width="3"/>
<line x1="1915.3" y1="1594.8" x2="1915.3" y2="2427.5" stroke="#555" stroke-width="3"/>
<line x1="1379.7" y1="2426" x2="1916.8" y2="2426" stroke="#333" stroke-width="3"/>
<line x1="1371.5" y1="1620.7" x2="1381.2" y2="1620.7" stroke="#333" stroke-width="3"/>
<text x="1363.5" y="1628.5" style="font-family:'Liberation Sans',sans-serif;font-size:20.1px;font-weight:bold" fill="#1a1a1a" text-anchor="end" stroke="#1a1a1a" stroke-width="0.35">Sulfur metabolism</text>
<line x1="1371.5" y1="1661.8" x2="1381.2" y2="1661.8" stroke="#333" stroke-width="3"/>
<text x="1363.5" y="1669.6" style="font-family:'Liberation Sans',sans-serif;font-size:20.1px;font-weight:bold" fill="#1a1a1a" text-anchor="end" stroke="#1a1a1a" stroke-width="0.35">Pyrimidine metabolism</text>
<line x1="1371.5" y1="1702.9" x2="1381.2" y2="1702.9" stroke="#333" stroke-width="3"/>
<text x="1363.5" y="1710.7" style="font-family:'Liberation Sans',sans-serif;font-size:20.1px;font-weight:bold" fill="#1a1a1a" text-anchor="end" stroke="#1a1a1a" stroke-width="0.35">Phosphatidylinositol signaling system</text>
<line x1="1371.5" y1="1743.9" x2="1381.2" y2="1743.9" stroke="#333" stroke-width="3"/>
<text x="1363.5" y="1751.7" style="font-family:'Liberation Sans',sans-serif;font-size:20.1px;font-weight:bold" fill="#1a1a1a" text-anchor="end" stroke="#1a1a1a" stroke-width="0.35">Betalain biosynthesis</text>
<line x1="1371.5" y1="1785.0" x2="1381.2" y2="1785.0" stroke="#333" stroke-width="3"/>
<text x="1363.5" y="1792.8" style="font-family:'Liberation Sans',sans-serif;font-size:20.1px;font-weight:bold" fill="#1a1a1a" text-anchor="end" stroke="#1a1a1a" stroke-width="0.35">Zeatin biosynthesis</text>
<line x1="1371.5" y1="1826.1" x2="1381.2" y2="1826.1" stroke="#333" stroke-width="3"/>
<text x="1363.5" y="1833.9" style="font-family:'Liberation Sans',sans-serif;font-size:20.1px;font-weight:bold" fill="#1a1a1a" text-anchor="end" stroke="#1a1a1a" stroke-width="0.35">ABC transporters</text>
<line x1="1371.5" y1="1867.2" x2="1381.2" y2="1867.2" stroke="#333" stroke-width="3"/>
<text x="1363.5" y="1875.0" style="font-family:'Liberation Sans',sans-serif;font-size:20.1px;font-weight:bold" fill="#1a1a1a" text-anchor="end" stroke="#1a1a1a" stroke-width="0.35">Valine, leucine and isoleucine degradation</text>
<line x1="1371.5" y1="1908.3" x2="1381.2" y2="1908.3" stroke="#333" stroke-width="3"/>
<text x="1363.5" y="1916.1" style="font-family:'Liberation Sans',sans-serif;font-size:20.1px;font-weight:bold" fill="#1a1a1a" text-anchor="end" stroke="#1a1a1a" stroke-width="0.35">Flavone and flavonol biosynthesis</text>
<line x1="1371.5" y1="1949.3" x2="1381.2" y2="1949.3" stroke="#333" stroke-width="3"/>
<text x="1363.5" y="1957.1" style="font-family:'Liberation Sans',sans-serif;font-size:20.1px;font-weight:bold" fill="#1a1a1a" text-anchor="end" stroke="#1a1a1a" stroke-width="0.35">Monobactam biosynthesis</text>
<line x1="1371.5" y1="1990.4" x2="1381.2" y2="1990.4" stroke="#333" stroke-width="3"/>
<text x="1363.5" y="1998.2" style="font-family:'Liberation Sans',sans-serif;font-size:20.1px;font-weight:bold" fill="#1a1a1a" text-anchor="end" stroke="#1a1a1a" stroke-width="0.35">Alanine, aspartate and glutamate metabolism</text>
<line x1="1371.5" y1="2031.5" x2="1381.2" y2="2031.5" stroke="#333" stroke-width="3"/>
<text x="1363.5" y="2039.3" style="font-family:'Liberation Sans',sans-serif;font-size:20.1px;font-weight:bold" fill="#1a1a1a" text-anchor="end" stroke="#1a1a1a" stroke-width="0.35">Other glycan degradation</text>
<line x1="1371.5" y1="2072.6" x2="1381.2" y2="2072.6" stroke="#333" stroke-width="3"/>
<text x="1363.5" y="2080.4" style="font-family:'Liberation Sans',sans-serif;font-size:20.1px;font-weight:bold" fill="#1a1a1a" text-anchor="end" stroke="#1a1a1a" stroke-width="0.35">Photosynthesis - antenna proteins</text>
<line x1="1371.5" y1="2113.7" x2="1381.2" y2="2113.7" stroke="#333" stroke-width="3"/>
<text x="1363.5" y="2121.5" style="font-family:'Liberation Sans',sans-serif;font-size:20.1px;font-weight:bold" fill="#1a1a1a" text-anchor="end" stroke="#1a1a1a" stroke-width="0.35">Arginine biosynthesis</text>
<line x1="1371.5" y1="2154.7" x2="1381.2" y2="2154.7" stroke="#333" stroke-width="3"/>
<text x="1363.5" y="2162.5" style="font-family:'Liberation Sans',sans-serif;font-size:20.1px;font-weight:bold" fill="#1a1a1a" text-anchor="end" stroke="#1a1a1a" stroke-width="0.35">Nitrogen metabolism</text>
<line x1="1371.5" y1="2195.8" x2="1381.2" y2="2195.8" stroke="#333" stroke-width="3"/>
<text x="1363.5" y="2203.6" style="font-family:'Liberation Sans',sans-serif;font-size:20.1px;font-weight:bold" fill="#1a1a1a" text-anchor="end" stroke="#1a1a1a" stroke-width="0.35">Arachidonic acid metabolism</text>
<line x1="1371.5" y1="2236.9" x2="1381.2" y2="2236.9" stroke="#333" stroke-width="3"/>
<text x="1363.5" y="2244.7" style="font-family:'Liberation Sans',sans-serif;font-size:20.1px;font-weight:bold" fill="#1a1a1a" text-anchor="end" stroke="#1a1a1a" stroke-width="0.35">Taurine and hypotaurine metabolism</text>
<line x1="1371.5" y1="2278.0" x2="1381.2" y2="2278.0" stroke="#333" stroke-width="3"/>
<text x="1363.5" y="2285.8" style="font-family:'Liberation Sans',sans-serif;font-size:20.1px;font-weight:bold" fill="#1a1a1a" text-anchor="end" stroke="#1a1a1a" stroke-width="0.35">Starch and sucrose metabolism</text>
<line x1="1371.5" y1="2319.1" x2="1381.2" y2="2319.1" stroke="#333" stroke-width="3"/>
<text x="1363.5" y="2326.9" style="font-family:'Liberation Sans',sans-serif;font-size:20.1px;font-weight:bold" fill="#1a1a1a" text-anchor="end" stroke="#1a1a1a" stroke-width="0.35">Plant-pathogen interaction</text>
<line x1="1371.5" y1="2360.1" x2="1381.2" y2="2360.1" stroke="#333" stroke-width="3"/>
<text x="1363.5" y="2367.9" style="font-family:'Liberation Sans',sans-serif;font-size:20.1px;font-weight:bold" fill="#1a1a1a" text-anchor="end" stroke="#1a1a1a" stroke-width="0.35">alpha-Linolenic acid metabolism</text>
<line x1="1371.5" y1="2401.2" x2="1381.2" y2="2401.2" stroke="#333" stroke-width="3"/>
<text x="1363.5" y="2409.0" style="font-family:'Liberation Sans',sans-serif;font-size:20.1px;font-weight:bold" fill="#1a1a1a" text-anchor="end" stroke="#1a1a1a" stroke-width="0.35">Sesquiterpenoid and triterpenoid biosynthesis</text>
<line x1="1460.6" y1="2426" x2="1460.6" y2="2435.5" stroke="#333" stroke-width="2.8"/>
<text x="1460.6" y="2457.5" style="font-family:'Liberation Sans',sans-serif;font-size:19.5px;font-weight:bold" fill="#222" text-anchor="middle" >2</text>
<line x1="1583.3" y1="2426" x2="1583.3" y2="2435.5" stroke="#333" stroke-width="2.8"/>
<text x="1583.3" y="2457.5" style="font-family:'Liberation Sans',sans-serif;font-size:19.5px;font-weight:bold" fill="#222" text-anchor="middle" >3</text>
<line x1="1706.0" y1="2426" x2="1706.0" y2="2435.5" stroke="#333" stroke-width="2.8"/>
<text x="1706.0" y="2457.5" style="font-family:'Liberation Sans',sans-serif;font-size:19.5px;font-weight:bold" fill="#222" text-anchor="middle" >4</text>
<line x1="1828.7" y1="2426" x2="1828.7" y2="2435.5" stroke="#333" stroke-width="2.8"/>
<text x="1828.7" y="2457.5" style="font-family:'Liberation Sans',sans-serif;font-size:19.5px;font-weight:bold" fill="#222" text-anchor="middle" >5</text>
<text x="1648" y="2489.7" style="font-family:'Liberation Sans',sans-serif;font-size:32px;font-weight:bold" fill="#111" text-anchor="middle" >Rich factor</text>
<text x="1948" y="1782" style="font-family:'Liberation Sans',sans-serif;font-size:27.5px;font-weight:bold" fill="#111" text-anchor="start" >qvalue</text>
<defs><linearGradient id="g1948" x1="0" y1="0" x2="0" y2="1"><stop offset="0" stop-color="#6E00C8"/><stop offset="0.04" stop-color="#7000CC"/><stop offset="0.16" stop-color="#7D60E0"/><stop offset="0.25" stop-color="#68A8F8"/><stop offset="0.27" stop-color="#00BFFF"/><stop offset="0.37" stop-color="#00C8D8"/><stop offset="0.44" stop-color="#00D8B0"/><stop offset="0.52" stop-color="#50D890"/><stop offset="0.62" stop-color="#6ED850"/><stop offset="0.70" stop-color="#70D400"/><stop offset="0.76" stop-color="#B0B800"/><stop offset="0.84" stop-color="#E09000"/><stop offset="0.92" stop-color="#FF5000"/><stop offset="0.97" stop-color="#F00000"/><stop offset="1" stop-color="#F00000"/></linearGradient></defs>
<rect x="1948.3" y="1793.8" width="39.4" height="198.6" fill="url(#g1948)"/>
<line x1="1948.3" y1="1799.8" x2="1955.8" y2="1799.8" stroke="#fff" stroke-opacity="0.55" stroke-width="1.5"/>
<line x1="1980.2" y1="1799.8" x2="1987.7" y2="1799.8" stroke="#fff" stroke-opacity="0.55" stroke-width="1.5"/>
<text x="1998" y="1809.0" style="font-family:'Liberation Sans',sans-serif;font-size:27px;font-weight:normal" fill="#333" text-anchor="start" >1.00</text>
<line x1="1948.3" y1="1846.3" x2="1955.8" y2="1846.3" stroke="#fff" stroke-opacity="0.55" stroke-width="1.5"/>
<line x1="1980.2" y1="1846.3" x2="1987.7" y2="1846.3" stroke="#fff" stroke-opacity="0.55" stroke-width="1.5"/>
<text x="1998" y="1855.5" style="font-family:'Liberation Sans',sans-serif;font-size:27px;font-weight:normal" fill="#333" text-anchor="start" >0.75</text>
<line x1="1948.3" y1="1893.5" x2="1955.8" y2="1893.5" stroke="#fff" stroke-opacity="0.55" stroke-width="1.5"/>
<line x1="1980.2" y1="1893.5" x2="1987.7" y2="1893.5" stroke="#fff" stroke-opacity="0.55" stroke-width="1.5"/>
<text x="1998" y="1902.7" style="font-family:'Liberation Sans',sans-serif;font-size:27px;font-weight:normal" fill="#333" text-anchor="start" >0.50</text>
<line x1="1948.3" y1="1940.7" x2="1955.8" y2="1940.7" stroke="#fff" stroke-opacity="0.55" stroke-width="1.5"/>
<line x1="1980.2" y1="1940.7" x2="1987.7" y2="1940.7" stroke="#fff" stroke-opacity="0.55" stroke-width="1.5"/>
<text x="1998" y="1949.9" style="font-family:'Liberation Sans',sans-serif;font-size:27px;font-weight:normal" fill="#333" text-anchor="start" >0.25</text>
<line x1="1948.3" y1="1987.2" x2="1955.8" y2="1987.2" stroke="#fff" stroke-opacity="0.55" stroke-width="1.5"/>
<line x1="1980.2" y1="1987.2" x2="1987.7" y2="1987.2" stroke="#fff" stroke-opacity="0.55" stroke-width="1.5"/>
<text x="1998" y="1996.4" style="font-family:'Liberation Sans',sans-serif;font-size:27px;font-weight:normal" fill="#333" text-anchor="start" >0.00</text>
<text x="1948" y="2048.3" style="font-family:'Liberation Sans',sans-serif;font-size:27.5px;font-weight:bold" fill="#111" text-anchor="start" >gene_number</text>
<circle cx="1968" cy="2078.5" r="5" fill="#000"/>
<text x="1993.5" y="2088.5" style="font-family:'Liberation Sans',sans-serif;font-size:27px;font-weight:normal" fill="#333" text-anchor="start" >10</text>
<circle cx="1968" cy="2118.6" r="7.6" fill="#000"/>
<text x="1993.5" y="2128.3" style="font-family:'Liberation Sans',sans-serif;font-size:27px;font-weight:normal" fill="#333" text-anchor="start" >20</text>
<circle cx="1968" cy="2158.5" r="9.6" fill="#000"/>
<text x="1993.5" y="2168.2" style="font-family:'Liberation Sans',sans-serif;font-size:27px;font-weight:normal" fill="#333" text-anchor="start" >30</text>
<circle cx="1968" cy="2198.7" r="12.5" fill="#000"/>
<text x="1993.5" y="2208.4" style="font-family:'Liberation Sans',sans-serif;font-size:27px;font-weight:normal" fill="#333" text-anchor="start" >40</text>
<circle cx="1968" cy="2238.6" r="14.8" fill="#000"/>
<text x="1993.5" y="2247.7" style="font-family:'Liberation Sans',sans-serif;font-size:27px;font-weight:normal" fill="#333" text-anchor="start" >50</text>
<line x1="913" y1="2513.6" x2="2139" y2="2513.6" stroke="#C8C8C8" stroke-width="1.6"/>
<line x1="2139" y1="1608" x2="2148" y2="1608" stroke="#CCC" stroke-width="1.5"/>
</svg></body></html>
